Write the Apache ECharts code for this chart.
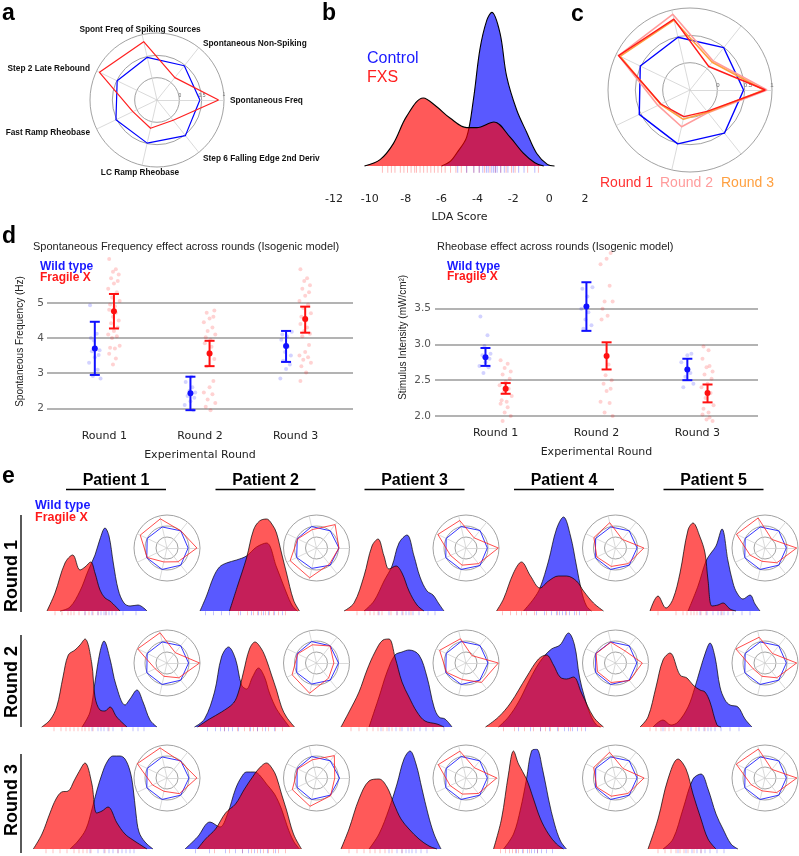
<!DOCTYPE html>
<html><head><meta charset="utf-8">
<script src="https://cdn.jsdelivr.net/npm/echarts@6/dist/echarts.min.js"></script>
<style>html,body{margin:0;padding:0;background:#fff}#c{width:799px;height:856px}</style>
</head><body><div id="c"></div>
<script>
// ---------------- DATA ----------------
const radarIndicators = ['Spontaneous Freq','Spontaneous Non-Spiking','Spont Freq of Spiking Sources','Step 2 Late Rebound','Fast Ramp Rheobase','LC Ramp Rheobase','Step 6 Falling Edge 2nd Deriv'];
// panel a
const aControl = [0.46,0.48,0.48,0.49,0.52,0.49,0.52];
const aFXS = [0.88,0.14,0.84,0.93,0.10,0.15,0.08];
// panel c
const cControl = [0.48,0.49,0.49,0.51,0.53,0.51,0.51];
const cRound1 = [0.88,0.05,0.83,0.95,0.09,0.00,0.00];
const cRound2 = [0.91,0.18,0.92,0.95,0.15,0.19,0.03];
const cRound3 = [0.85,0.15,0.81,0.92,0.10,0.05,0.02];
const cLegend = ['Round 1','Round 2','Round 3'];
// panel b (LDA score, density)
const bControl = [[-6.0,0],[-5.5,0.03],[-5.16,0.08],[-4.6,0.18],[-4.23,0.41],[-3.86,0.73],[-3.48,0.91],[-3.2,0.96],[-2.74,0.83],[-2.37,0.56],[-1.81,0.35],[-1.25,0.21],[-0.7,0.08],[-0.1,0.01],[0.3,0]];
const bFXS = [[-10.3,0],[-9.43,0.04],[-8.69,0.14],[-7.95,0.31],[-7.02,0.425],[-6.27,0.37],[-5.53,0.30],[-4.6,0.24],[-4.04,0.24],[-3.08,0.275],[-2.18,0.18],[-1.44,0.08],[-0.8,0.02],[-0.3,0]];
const bRugFXS = [-9.3,-9.0,-8.8,-8.6,-8.3,-8.1,-7.9,-7.7,-7.5,-7.4,-7.2,-7.0,-6.8,-6.6,-6.4,-6.2,-6.0,-5.8,-5.5,-5.2,-4.9,-4.6,-4.2,-3.9,-3.6,-3.3,-3.0,-2.7,-2.4,-2.1,-1.9,-1.2,-0.6];
const bRugControl = [-5.1,-4.6,-4.2,-3.9,-3.7,-3.5,-3.4,-3.2,-3.1,-3.0,-2.9,-2.7,-2.5,-2.3,-2.0,-1.7,-1.4,-0.8];
const bTicks = [-12,-10,-8,-6,-4,-2,0,2];
// panel d
const rounds = ['Round 1','Round 2','Round 3'];
const sfWtMean = [3.70,2.43,3.77], sfWtLo = [2.95,1.95,3.32], sfWtHi = [4.46,2.90,4.20];
const sfFxMean = [4.76,3.56,4.54], sfFxLo = [4.27,3.20,4.15], sfFxHi = [5.25,3.92,4.89];
const sfWtPts = [[4.93,4.12,3.93,3.65,3.62,3.52,3.45,3.3,3.1,2.92,2.85,4.0],[2.9,2.75,2.6,2.5,2.45,2.35,2.3,2.2,2.1,1.95,1.45],[4.18,4.1,4.05,3.95,3.75,3.6,3.5,3.35,3.25,3.12,2.85]];
const sfFxPts = [[6.24,5.95,5.88,5.8,5.7,5.62,5.55,5.4,5.3,5.15,5.05,4.95,4.9,4.8,4.72,4.6,4.5,4.42,4.3,4.2,4.1,4.05,4.0,3.78,3.72,3.7,3.55,3.42,3.25],[4.78,4.72,4.6,4.55,4.45,4.3,4.2,4.1,4.02,3.95,3.85,3.75,3.6,3.4,3.2,2.78,2.6,2.45,2.4,2.25,2.15,2.05,1.95],[5.95,5.7,5.62,5.5,5.4,5.3,5.2,5.05,4.95,4.85,4.7,4.6,4.5,4.4,4.3,4.2,4.12,4.05,3.8,3.6,3.5,3.45,3.38,3.3,3.2,3.02,2.78]];
const rbWtMean = [2.82,3.53,2.65], rbWtLo = [2.70,3.19,2.50], rbWtHi = [2.95,3.87,2.80];
const rbFxMean = [2.38,2.84,2.32], rbFxLo = [2.31,2.65,2.19], rbFxHi = [2.46,3.03,2.44];
const rbWtPts = [[3.39,3.13,2.98,2.87,2.85,2.8,2.75,2.7,2.68,2.6],[3.8,3.78,3.67,3.5,3.45,3.35,3.27,3.22],[2.87,2.85,2.75,2.6,2.55,2.45,2.4]];
const rbFxPts = [[2.78,2.73,2.67,2.62,2.58,2.52,2.48,2.43,2.38,2.33,2.28,2.22,2.2,2.17,2.12,2.05,2.0,1.93],[4.28,4.2,4.12,3.82,3.6,3.6,3.5,3.4,3.35,2.72,2.57,2.5,2.45,2.38,2.35,2.2,2.18,2.05,2.0],[2.97,2.92,2.8,2.7,2.68,2.62,2.58,2.52,2.45,2.4,2.32,2.25,2.15,2.1,2.05,2.02,1.98,1.95,1.93]];
const jitter = [-0.05,0.02,-0.01,0.05,-0.03,0.04,0.0,-0.06,0.03,-0.02,0.06,-0.04,0.01];
// panel e
const patients = ['Patient 1','Patient 2','Patient 3','Patient 4','Patient 5'];
const eWT = [
 [
  [[2.0,0],[3.0,0.04],[4.0,0.2],[4.8,0.4],[5.5,0.56],[6.0,0.72],[6.5,0.83],[6.9,0.75],[7.33,0.48],[7.83,0.21],[8.4,0.08],[9.0,0.05],[9.8,0.06],[10.7,0]],
  [[1.05,0],[1.7,0.15],[2.4,0.34],[3.0,0.44],[3.7,0.48],[4.7,0.51],[5.7,0.55],[6.7,0.64],[7.7,0.68],[8.7,0.44],[9.7,0.18],[10.3,0.05],[10.8,0]],
  [[2.5,0],[3.5,0.1],[4.5,0.3],[5.3,0.45],[6.0,0.68],[6.8,0.76],[7.5,0.55],[8.1,0.34],[8.8,0.2],[9.4,0.16],[10.0,0.07],[10.5,0]],
  [[3.5,0],[4.5,0.12],[5.15,0.23],[6.0,0.5],[6.8,0.82],[7.5,0.94],[8.2,0.75],[8.8,0.45],[9.3,0.2],[9.8,0.05],[10.3,0]],
  [[5.0,0],[6.0,0.25],[6.8,0.5],[7.3,0.58],[7.8,0.65],[8.4,0.82],[9.0,0.5],[9.5,0.28],[9.9,0.18],[10.5,0.12],[11.2,0.16],[11.7,0.07],[12.2,0]]
 ],
 [
  [[4.2,0],[5.0,0.15],[5.5,0.45],[6.0,0.75],[6.4,0.86],[7.0,0.68],[7.6,0.42],[8.5,0.22],[9.0,0.28],[9.7,0.37],[10.3,0.25],[11.0,0.07],[11.7,0]],
  [[0.5,0],[1.5,0.08],[2.5,0.35],[3.2,0.7],[3.9,0.8],[4.6,0.68],[5.2,0.42],[5.7,0.38],[6.3,0.5],[6.9,0.59],[7.5,0.5],[8.0,0.34],[8.7,0.18],[9.4,0.08],[10.0,0]],
  [[3.0,0],[4.0,0.3],[4.8,0.55],[5.6,0.72],[6.3,0.75],[7.0,0.77],[8.0,0.72],[8.8,0.5],[9.5,0.2],[10.0,0.1],[10.6,0.08],[11.3,0]],
  [[1.0,0],[2.0,0.1],[3.0,0.25],[4.0,0.45],[4.8,0.6],[5.5,0.7],[6.3,0.78],[7.15,0.82],[8.0,0.94],[8.6,0.82],[9.1,0.5],[9.6,0.3],[10.2,0.12],[10.8,0.02],[11.2,0]],
  [[1.5,0],[2.5,0.07],[3.3,0.02],[4.0,0.05],[5.0,0.2],[5.7,0.4],[6.2,0.57],[6.8,0.76],[7.2,0.84],[7.7,0.7],[8.2,0.4],[8.7,0.27],[9.2,0.22],[10.0,0.2],[10.7,0.08],[11.4,0]]
 ],
 [
  [[3.0,0],[3.8,0.08],[4.6,0.2],[5.2,0.4],[5.7,0.59],[6.2,0.75],[6.7,0.87],[7.3,0.93],[8.0,0.93],[8.5,0.9],[9.0,0.78],[9.3,0.62],[9.6,0.35],[9.9,0.17],[10.5,0.07],[11.3,0]],
  [[-0.45,0],[0.8,0.12],[2.05,0.27],[3.05,0.22],[3.8,0.35],[4.6,0.6],[5.2,0.72],[5.7,0.77],[6.5,0.77],[7.0,0.74],[7.7,0.65],[8.5,0.55],[9.2,0.4],[9.8,0.22],[10.4,0.08],[11.0,0]],
  [[3.0,0],[4.0,0.15],[5.0,0.4],[5.8,0.65],[6.5,0.9],[7.1,0.98],[7.7,0.85],[8.3,0.6],[8.9,0.35],[9.5,0.15],[10.2,0]],
  [[1.5,0],[2.5,0.15],[3.2,0.4],[3.8,0.7],[4.3,0.98],[4.8,1.0],[5.4,0.8],[6.0,0.5],[6.6,0.25],[7.2,0.08],[7.8,0]],
  [[2.5,0],[3.5,0.1],[4.5,0.4],[5.5,0.7],[6.3,0.75],[7.0,0.6],[7.8,0.35],[8.5,0.2],[9.3,0.05],[10,0]]
 ]
];
const eFX = [
 [
  [[0.7,0],[1.5,0.18],[2.5,0.48],[3.27,0.56],[4.0,0.41],[4.5,0.44],[5.07,0.49],[5.5,0.38],[6.0,0.21],[6.5,0.13],[7.0,0.1],[8.0,0]],
  [[4.0,0],[4.8,0.25],[5.7,0.53],[6.4,0.81],[7.0,0.9],[7.7,0.92],[8.3,0.86],[8.7,0.78],[9.2,0.58],[9.7,0.38],[10.4,0.11],[11.0,0]],
  [[0.5,0],[1.5,0.08],[2.5,0.35],[3.3,0.65],[3.9,0.72],[4.5,0.55],[5.0,0.42],[5.7,0.45],[6.3,0.38],[7.0,0.2],[7.8,0.06],[8.5,0]],
  [[0.8,0],[1.5,0.12],[2.5,0.38],[3.3,0.49],[4.2,0.35],[5.15,0.23],[6.0,0.3],[7.0,0.35],[7.8,0.35],[8.8,0.3],[9.5,0.2],[10.5,0.08],[11.5,0]],
  [[1.2,0],[2.0,0.15],[2.8,0.03],[3.5,0.12],[4.2,0.38],[5.0,0.81],[5.5,0.88],[6.2,0.74],[6.7,0.58],[7.0,0.31],[7.4,0.05],[8.0,0.06],[8.5,0.08],[9.2,0.02],[9.8,0]]
 ],
 [
  [[0.17,0],[1.0,0.07],[1.67,0.2],[2.3,0.5],[2.83,0.72],[3.5,0.77],[4.0,0.82],[4.5,0.88],[5.17,0.64],[5.5,0.3],[6.0,0.17],[6.5,0.16],[7.0,0.2],[7.67,0.1],[8.7,0]],
  [[0.8,0],[2.0,0.08],[3.2,0.15],[4.4,0.24],[4.9,0.35],[5.4,0.55],[6.0,0.78],[6.55,0.85],[7.2,0.78],[7.7,0.67],[8.2,0.52],[8.7,0.37],[9.2,0.2],[9.7,0.1],[10.5,0]],
  [[0.2,0],[1.0,0.15],[2.0,0.35],[2.8,0.57],[3.6,0.75],[4.4,0.87],[5.0,0.88],[5.6,0.7],[6.3,0.45],[7.0,0.3],[7.8,0.15],[8.6,0.06],[9.8,0.03],[10.5,0]],
  [[-0.3,0],[1.0,0.1],[2.2,0.24],[3.8,0.5],[5.0,0.68],[5.8,0.72],[6.5,0.62],[7.15,0.5],[7.8,0.48],[8.5,0.5],[9.3,0.34],[10.5,0.1],[11.5,0]],
  [[0.2,0],[1.0,0.1],[1.8,0.4],[2.5,0.67],[3.2,0.74],[4.2,0.52],[4.9,0.49],[5.5,0.42],[6.2,0.37],[6.7,0.35],[7.2,0.25],[7.9,0.02],[8.3,0]]
 ],
 [
  [[-0.67,0],[0.2,0.15],[1.0,0.36],[1.6,0.5],[2.17,0.57],[2.83,0.58],[3.4,0.68],[3.83,0.76],[4.5,0.86],[5.17,0.66],[5.67,0.36],[6.2,0.38],[6.8,0.42],[7.7,0.26],[8.5,0.15],[9.3,0.09],[10.7,0]],
  [[0.8,0],[1.6,0.1],[2.6,0.2],[3.6,0.36],[4.6,0.45],[5.5,0.6],[6.3,0.72],[6.9,0.8],[7.7,0.86],[8.3,0.8],[8.7,0.72],[9.2,0.55],[9.7,0.39],[10.4,0.15],[11.2,0]],
  [[0.2,0],[1.0,0.2],[2.0,0.5],[3.0,0.68],[4.0,0.7],[4.8,0.62],[5.5,0.45],[6.2,0.3],[7.0,0.2],[8.0,0.1],[9.0,0.03],[9.8,0]],
  [[0.5,0],[1.3,0.3],[2.0,0.75],[2.5,0.98],[3.0,0.85],[3.8,0.7],[4.5,0.5],[5.2,0.3],[6.0,0.15],[6.8,0.05],[7.5,0]],
  [[1.0,0],[2.0,0.3],[3.0,0.7],[4.0,0.9],[4.8,0.8],[5.5,0.55],[6.3,0.3],[7.0,0.1],[7.8,0]]
 ]
];
const eRugWT = [
 [[4.5,5.2,5.8,6.1,6.4,6.6,6.9,7.2,7.6,8.3,9.6],[1.6,2.4,3.2,4.0,5.1,6.2,6.9,7.4,7.9,8.5,9.3],[4.0,5.0,5.8,6.3,6.7,7.0,7.4,8.0,8.9,9.6],[4.8,5.6,6.3,6.8,7.1,7.4,7.7,8.1,8.6,9.1],[6.2,6.9,7.5,8.0,8.3,8.6,9.0,9.5,10.4,11.2]],
 [[5.2,5.8,6.1,6.4,6.8,7.3,8.2,9.3,9.8,10.4],[1.8,2.6,3.1,3.5,3.9,4.3,4.9,6.1,6.8,7.6,8.5],[4.2,5.0,5.7,6.3,6.9,7.5,8.1,8.7,9.4,10.5],[3.0,4.2,5.2,6.1,6.9,7.6,8.0,8.4,8.9,9.7],[2.5,5.3,6.1,6.6,7.0,7.3,7.7,8.3,9.2,10.1]],
 [[5.0,5.8,6.4,6.9,7.3,7.8,8.2,8.6,9.0,9.4],[0.6,2.0,3.6,4.6,5.3,5.9,6.5,7.1,7.8,8.6],[5.0,5.8,6.3,6.7,7.0,7.3,7.7,8.2,8.8],[2.8,3.4,3.9,4.3,4.6,4.9,5.3,5.8,6.4],[4.0,4.8,5.4,5.9,6.3,6.7,7.2,7.9,8.6]]
];
const eRugFX = [
 [[1.5,2.2,2.8,3.1,3.4,3.9,4.5,4.9,5.3,5.8,6.6],[4.9,5.8,6.4,6.8,7.2,7.6,8.0,8.4,8.9,9.6],[1.8,2.6,3.1,3.5,3.9,4.3,5.2,5.8,6.4,7.2],[1.4,2.2,2.8,3.3,3.8,4.6,5.8,6.9,7.8,8.8,9.8],[2.0,3.8,4.5,4.9,5.3,5.6,5.9,6.3,6.8,8.4]],
 [[1.4,2.1,2.6,3.0,3.4,3.8,4.2,4.5,4.9,5.3,6.9],[3.5,4.8,5.5,6.0,6.4,6.8,7.3,7.9,8.6,9.3],[1.2,2.0,2.8,3.4,3.9,4.4,4.8,5.3,6.1,7.2],[1.5,2.6,3.6,4.5,5.2,5.7,6.2,7.0,8.2,9.3],[1.2,1.8,2.3,2.7,3.1,3.6,4.3,5.0,5.8,6.7]],
 [[0.6,1.3,2.0,2.7,3.4,3.9,4.3,4.7,5.1,6.5,7.8],[2.5,4.0,5.3,6.2,6.8,7.4,7.9,8.4,8.9,9.6],[1.0,1.8,2.5,3.1,3.6,4.1,4.6,5.3,6.3],[1.2,1.7,2.1,2.4,2.7,3.0,3.5,4.1,4.9],[2.0,2.7,3.3,3.8,4.2,4.6,5.0,5.6,6.3]]
];
const eRadarWT = [
 [[0.46,0.5,0.48,0.5,0.52,0.5,0.5],[0.52,0.5,0.5,0.47,0.5,0.45,0.5],[0.47,0.52,0.5,0.5,0.52,0.5,0.52],[0.48,0.5,0.48,0.5,0.52,0.5,0.5],[0.47,0.5,0.48,0.5,0.52,0.5,0.5]],
 [[0.48,0.5,0.48,0.5,0.52,0.5,0.5],[0.5,0.5,0.5,0.48,0.5,0.48,0.5],[0.5,0.52,0.5,0.5,0.52,0.5,0.5],[0.47,0.5,0.48,0.5,0.5,0.5,0.5],[0.47,0.5,0.48,0.5,0.52,0.5,0.5]],
 [[0.5,0.5,0.48,0.5,0.52,0.5,0.5],[0.55,0.5,0.5,0.48,0.48,0.5,0.5],[0.47,0.5,0.5,0.5,0.52,0.5,0.5],[0.48,0.5,0.48,0.5,0.5,0.5,0.5],[0.47,0.5,0.48,0.5,0.52,0.5,0.5]]
];
const eRadarFX = [
 [[0.86,0.5,0.86,0.85,0.5,0.15,0.3],[0.52,0.86,0.36,0.45,0.83,0.89,0.44],[0.97,0.09,0.78,0.92,0.28,0.3,0.41],[0.79,0.0,0.68,0.59,0.44,0.36,0.41],[0.94,0.0,0.9,0.94,0.25,0.12,0.36]],
 [[0.98,0.1,0.91,0.98,0.1,0.12,0.36],[0.29,0.49,0.35,0.45,0.73,0.91,0.38],[0.97,-0.07,0.63,0.83,0.48,0.27,0.63],[0.72,0.2,0.47,0.48,0.41,0.41,0.52],[0.94,0.05,0.7,0.97,0.1,0.12,0.36]],
 [[0.86,0.47,0.9,1.0,0.23,0.12,0.41],[0.33,0.8,0.35,0.45,0.72,0.82,0.53],[0.9,0.1,0.75,0.9,0.3,0.25,0.4],[0.8,0.05,0.7,0.6,0.45,0.35,0.4],[0.95,0.0,0.85,0.95,0.2,0.1,0.35]]
];

// ---------------- BUILD ----------------
const BLUE='#0000ff', RED='#ff0000';
const AREA_B='rgba(0,0,255,0.65)', AREA_R='rgba(255,0,0,0.65)';
const SANS='Liberation Sans', DV='DejaVu Sans';
const grids=[], xAxes=[], yAxes=[], series=[], radars=[], graphics=[];
function addGrid(g,x,y){grids.push(g);const i=grids.length-1;xAxes.push(Object.assign({gridIndex:i},x));yAxes.push(Object.assign({gridIndex:i},y));return i;}
const hiddenX = (min,max)=>({type:'value',min,max,show:false});
function density(gi,data,color,lw,z){return {type:'line',xAxisIndex:gi,yAxisIndex:gi,data,smooth:0.35,symbol:'none',silent:true,lineStyle:{color:'#000',width:lw},areaStyle:{color,opacity:1,origin:'auto'},z};}
function rug(gi,vals,y,h,color){return {type:'scatter',xAxisIndex:gi,yAxisIndex:gi,silent:true,data:vals.map(v=>[v,y]),symbol:'rect',symbolSize:[1,h],itemStyle:{color},z:4};}
function mkRadar(center,radius){return {center,radius,startAngle:0,shape:'circle',splitNumber:3,
  indicator:radarIndicators.map(n=>({name:n,min:-0.5,max:1})),
  axisName:{show:false},splitArea:{show:false},
  splitLine:{lineStyle:{color:'#8a8a8a',width:0.8}},
  axisLine:{lineStyle:{color:'#d0d0d0',width:0.8}},axisTick:{show:false},axisLabel:{show:false}};}
function radarSeries(ri,vals,color,w,z){return {type:'radar',radarIndex:ri,symbol:'none',silent:true,z:z||3,lineStyle:{color,width:w},data:[{value:vals}]};}
function txt(text,x,y,o){graphics.push({type:'text',x,y,silent:true,rotation:(o&&o.rot)||0,style:Object.assign({text,fill:'#000',fontFamily:SANS,fontSize:12,align:'left',verticalAlign:'middle'},o||{})});}
function ln(x1,y1,x2,y2,w,c){graphics.push({type:'line',silent:true,shape:{x1,y1,x2,y2},style:{stroke:c||'#000',lineWidth:w||1}});}

// panel a
radars.push(mkRadar([157,100],67));
series.push(radarSeries(0,aControl,BLUE,1.2), radarSeries(0,aFXS,'#ff2020',1.2));
const aLab = {fontWeight:'bold',fontSize:8.3,fill:'#111'};
txt(radarIndicators[2],140,30,Object.assign({align:'center'},aLab));
txt(radarIndicators[1],203,44,aLab);
txt(radarIndicators[0],230,101,aLab);
txt(radarIndicators[6],203,159,aLab);
txt(radarIndicators[5],140,173,Object.assign({align:'center'},aLab));
txt(radarIndicators[4],90,133,Object.assign({align:'right'},aLab));
txt(radarIndicators[3],90,69,Object.assign({align:'right'},aLab));
txt('0',180,96,{fontSize:5,fill:'#666',align:'center'});
txt('0.5',202,96,{fontSize:5,fill:'#666',align:'center'});
txt('1',224,95,{fontSize:5,fill:'#666',align:'center'});

// panel c
radars.push(mkRadar([690,90],82));
series.push(radarSeries(1,cControl,BLUE,1.4), radarSeries(1,cRound2,'#ff9c9c',1.6), radarSeries(1,cRound3,'#ffa040',1.6), radarSeries(1,cRound1,'#ff1a1a',1.4));
txt('0',718,85,{fontSize:6,fill:'#666',align:'center'});
txt('0.5',748,85,{fontSize:6,fill:'#666',align:'center'});
txt('1',772,85,{fontSize:6,fill:'#666',align:'center'});
txt(cLegend[0],600,183,{fontSize:14,fill:'#ff3030'});
txt(cLegend[1],660,183,{fontSize:14,fill:'#ff9c9c'});
txt(cLegend[2],721,183,{fontSize:14,fill:'#ffa040'});

// panel b
const gb = addGrid({left:334,top:6,width:251,height:169.6},
 {type:'value',min:-12,max:2,interval:2,axisLine:{show:false},axisTick:{show:false},splitLine:{show:false},
  axisLabel:{fontSize:11,color:'#222',margin:18,fontFamily:DV},
  name:'LDA Score',nameLocation:'middle',nameGap:36,nameTextStyle:{fontSize:11,color:'#222',fontFamily:DV}},
 {type:'value',min:-0.06,max:1,show:false});
series.push(density(gb,bControl,AREA_B,1.1,2), density(gb,bFXS,AREA_R,1.1,3));
series.push(rug(gb,bRugFXS,-0.02,7,'rgba(255,0,0,0.35)'), rug(gb,bRugControl,-0.02,7,'rgba(0,0,255,0.35)'));
txt('Control',367,59,{fontSize:16,fill:'#1a1aff'});
txt('FXS',367,78,{fontSize:16,fill:'#ff2020'});

// panel d helpers
function errSeries(gi,off,mean,lo,hi,color){
 return {type:'custom',xAxisIndex:gi,yAxisIndex:gi,z:6,silent:true,
  data:mean.map((m,i)=>[i+1+off,m,lo[i],hi[i]]),
  encode:{x:0,y:[1,2,3]},
  renderItem:(p,api)=>{const x=api.value(0);const c=api.coord([x,api.value(1)]);const l=api.coord([x,api.value(2)]);const h=api.coord([x,api.value(3)]);const cap=5;
   const st={stroke:color,lineWidth:2};
   return {type:'group',children:[
    {type:'line',shape:{x1:c[0],y1:l[1],x2:c[0],y2:h[1]},style:st},
    {type:'line',shape:{x1:c[0]-cap,y1:l[1],x2:c[0]+cap,y2:l[1]},style:st},
    {type:'line',shape:{x1:c[0]-cap,y1:h[1],x2:c[0]+cap,y2:h[1]},style:st},
    {type:'circle',shape:{cx:c[0],cy:c[1],r:3},style:{fill:color}}]};}};
}
function ptsSeries(gi,off,pts,color,gridVals){
 const data=[];let k=0;
 pts.forEach((arr,i)=>arr.forEach(v=>{data.push([i+1+off+jitter[k%jitter.length],v]);k++;}));
 const s={type:'scatter',xAxisIndex:gi,yAxisIndex:gi,data,symbolSize:4,silent:true,itemStyle:{color},z:4};
 if(gridVals) s.markLine={silent:true,symbol:'none',label:{show:false},lineStyle:{color:'#9a9a9a',width:1.6,type:'solid'},data:gridVals.map(v=>({yAxis:v})),z:1};
 return s;
}
const roundX = (margin)=>({type:'value',min:0.4,max:3.6,interval:0.2,axisLine:{show:false},axisTick:{show:false},splitLine:{show:false},
  axisLabel:{margin,fontSize:11,color:'#222',fontFamily:DV,formatter:v=>{const r=Math.round(v);return Math.abs(v-r)<1e-6&&r>=1&&r<=3?rounds[r-1]:'';}},
  name:'Experimental Round',nameLocation:'middle',nameGap:24,nameTextStyle:{fontSize:11,color:'#222',fontFamily:DV}});
// d left
const gdl = addGrid({left:47,top:257,width:306,height:169}, roundX(5),
 {type:'value',min:1.5,max:6.3,interval:0.5,axisLine:{show:false},axisTick:{show:false},splitLine:{show:false},
  axisLabel:{fontSize:10.5,color:'#555',margin:3,fontFamily:DV,formatter:v=>{const r=Math.round(v);return Math.abs(v-r)<1e-6&&r>=2&&r<=5?String(r):'';}},
  name:'Spontaneous Frequency (Hz)',nameLocation:'middle',nameGap:22,nameTextStyle:{fontSize:10,color:'#222',fontFamily:SANS}});
series.push(ptsSeries(gdl,-0.1,sfWtPts,'rgba(0,0,255,0.22)',[2,3,4,5]), ptsSeries(gdl,0.1,sfFxPts,'rgba(255,0,0,0.22)'));
series.push(errSeries(gdl,-0.1,sfWtMean,sfWtLo,sfWtHi,'#1010ff'), errSeries(gdl,0.1,sfFxMean,sfFxLo,sfFxHi,'#ff1010'));
// d right
const gdr = addGrid({left:435,top:251.5,width:323,height:171.6}, roundX(5),
 {type:'value',min:1.9,max:4.3,interval:0.1,axisLine:{show:false},axisTick:{show:false},splitLine:{show:false},
  axisLabel:{fontSize:10.5,color:'#555',margin:4,fontFamily:DV,formatter:v=>{const r=Math.round(v*2)/2;return Math.abs(v-r)<1e-6&&r>=2&&r<=3.5?r.toFixed(1):'';}},
  name:'Stimulus Intensity (mW/cm²)',nameLocation:'middle',nameGap:27,nameTextStyle:{fontSize:10,color:'#222',fontFamily:SANS}});
series.push(ptsSeries(gdr,-0.1,rbWtPts,'rgba(0,0,255,0.22)',[2,2.5,3,3.5]), ptsSeries(gdr,0.1,rbFxPts,'rgba(255,0,0,0.22)'));
series.push(errSeries(gdr,-0.1,rbWtMean,rbWtLo,rbWtHi,'#1010ff'), errSeries(gdr,0.1,rbFxMean,rbFxLo,rbFxHi,'#ff1010'));
txt('Spontaneous Frequency effect across rounds (Isogenic model)',33,247,{fontSize:11,fill:'#222'});
txt('Rheobase effect across rounds (Isogenic model)',437,247,{fontSize:11,fill:'#222'});
txt('Wild type',40,267,{fontSize:12,fontWeight:'bold',fill:'#1a1aff'});
txt('Fragile X',40,278,{fontSize:12,fontWeight:'bold',fill:'#ff1a1a'});
txt('Wild type',447,267,{fontSize:12,fontWeight:'bold',fill:'#1a1aff'});
txt('Fragile X',447,277,{fontSize:12,fontWeight:'bold',fill:'#ff1a1a'});

// panel e
const rowBase=[611,727,849], rowRadarY=[548,663,778];
for(let r=0;r<3;r++){
 for(let c=0;c<5;c++){
  const gi=addGrid({left:30+149.5*c,top:rowBase[r]-100,width:135,height:104},hiddenX(-1,12.5),{type:'value',min:-0.04,max:1,show:false});
  series.push(density(gi,eWT[r][c],AREA_B,0.7,2), density(gi,eFX[r][c],AREA_R,0.7,3));
  series.push(rug(gi,eRugFX[r][c],-0.022,4,'rgba(255,0,0,0.3)'), rug(gi,eRugWT[r][c],-0.022,4,'rgba(0,0,255,0.3)'));
  const ri=radars.length;
  radars.push(mkRadar([167+149.5*c,rowRadarY[r]],33));
  series.push(radarSeries(ri,eRadarWT[r][c],BLUE,0.8,5), radarSeries(ri,eRadarFX[r][c],'#ff2020',0.8,5));
 }
}
const headX=[116,265.5,414.5,564,713.5];
patients.forEach((p,i)=>{txt(p,headX[i],481,{fontSize:16,fontWeight:'bold',align:'center'});ln(headX[i]-50,489.5,headX[i]+50,489.5,1.3);});
const rowLabY=[576,682,800], rowLine=[[515,612],[635,727],[754,853]];
['Round 1','Round 2','Round 3'].forEach((t,i)=>{txt(t,12,rowLabY[i],{fontSize:18,fontWeight:'bold',align:'center',rot:Math.PI/2});ln(21,rowLine[i][0],21,rowLine[i][1],1.3);});
txt('Wild type',35,506,{fontSize:12.5,fontWeight:'bold',fill:'#1a1aff'});
txt('Fragile X',35,518,{fontSize:12.5,fontWeight:'bold',fill:'#ff1a1a'});

// panel letters
txt('a',2,14,{fontSize:23,fontWeight:'bold'});
txt('b',322,14,{fontSize:23,fontWeight:'bold'});
txt('c',571,15,{fontSize:23,fontWeight:'bold'});
txt('d',2,237,{fontSize:23,fontWeight:'bold'});
txt('e',2,477,{fontSize:23,fontWeight:'bold'});

const chart = echarts.init(document.getElementById('c'),null,{renderer:'canvas',width:799,height:856});
chart.setOption({animation:false,backgroundColor:'#fff',grid:grids,xAxis:xAxes,yAxis:yAxes,radar:radars,series,graphic:graphics});
</script></body></html>
